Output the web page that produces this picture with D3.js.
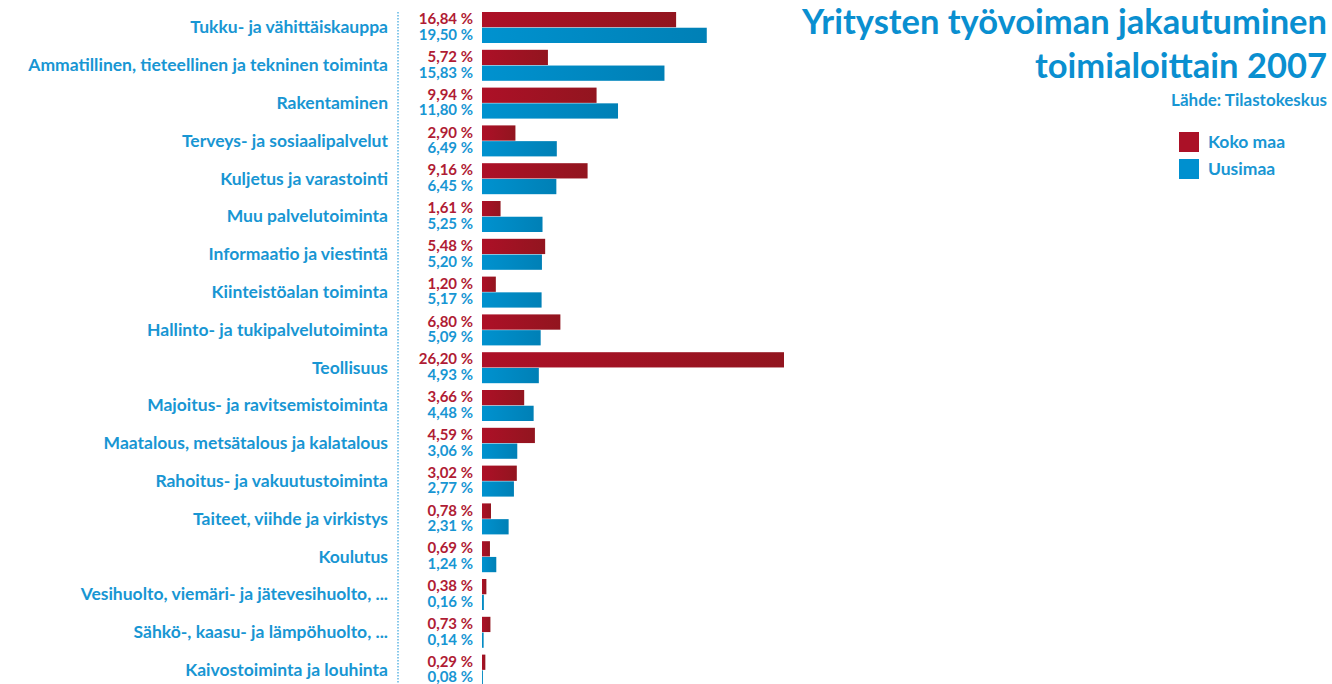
<!DOCTYPE html>
<html>
<head>
<meta charset="utf-8">
<script src="https://cdn.jsdelivr.net/npm/d3@7"></script>
<style>
  body { margin: 0; background: #fff; }
  svg { display: block; font-family: Lato, "Open Sans", sans-serif; font-weight: bold; }
</style>
</head>
<body>
<svg class="canvas" width="1332" height="684"></svg>
<script>
'use strict';

const categories = [
  'Tukku- ja vähittäiskauppa',
  'Ammatillinen, tieteellinen ja tekninen toiminta',
  'Rakentaminen',
  'Terveys- ja sosiaalipalvelut',
  'Kuljetus ja varastointi',
  'Muu palvelutoiminta',
  'Informaatio ja viestintä',
  'Kiinteistöalan toiminta',
  'Hallinto- ja tukipalvelutoiminta',
  'Teollisuus',
  'Majoitus- ja ravitsemistoiminta',
  'Maatalous, metsätalous ja kalatalous',
  'Rahoitus- ja vakuutustoiminta',
  'Taiteet, viihde ja virkistys',
  'Koulutus',
  'Vesihuolto, viemäri- ja jätevesihuolto, ...',
  'Sähkö-, kaasu- ja lämpöhuolto, ...',
  'Kaivostoiminta ja louhinta'
];
const kokoMaa = [16.84, 5.72, 9.94, 2.90, 9.16, 1.61, 5.48, 1.20, 6.80, 26.20, 3.66, 4.59, 3.02, 0.78, 0.69, 0.38, 0.73, 0.29];
const uusimaa = [19.50, 15.83, 11.80, 6.49, 6.45, 5.25, 5.20, 5.17, 5.09, 4.93, 4.48, 3.06, 2.77, 2.31, 1.24, 0.16, 0.14, 0.08];
const seriesNames = ['Koko maa', 'Uusimaa'];

const blueText = '#1896d3',
  redText = '#b01c34';

const svg = d3.select('.canvas');

// horizontal gradients for the bars
const defs = svg.append('defs');
const gradRed = defs.append('linearGradient').attr('id', 'gRed');
gradRed.append('stop').attr('offset', '0%').attr('stop-color', '#ad1027');
gradRed.append('stop').attr('offset', '100%').attr('stop-color', '#92151f');
const gradBlue = defs.append('linearGradient').attr('id', 'gBlue');
gradBlue.append('stop').attr('offset', '0%').attr('stop-color', '#0092cf');
gradBlue.append('stop').attr('offset', '100%').attr('stop-color', '#0080b6');

const x = d3.scaleLinear().domain([0, 26.2]).range([482, 784]);
const y = d3.scaleBand().domain(categories).range([12, 685.6]).paddingInner(0.18).paddingOuter(0);
const inner = d3.scaleBand().domain(seriesNames).range([0, y.bandwidth()]).paddingInner(0.03);

const rows = categories.map((c, i) => ({ c, vals: [kokoMaa[i], uusimaa[i]] }));

// dotted axis line
svg.append('line')
  .attr('x1', 398).attr('x2', 398)
  .attr('y1', 12).attr('y2', 684)
  .attr('stroke', '#5fb6e3').attr('stroke-width', 1.5)
  .attr('stroke-dasharray', '1.5,1.5');

const g = svg.selectAll('g.row').data(rows).enter().append('g')
  .attr('class', 'row')
  .attr('transform', d => `translate(0,${y(d.c)})`);

g.append('text')
  .attr('x', 388).attr('y', y.bandwidth() / 2 + 6)
  .attr('text-anchor', 'end')
  .attr('font-size', 17.5)
  .attr('fill', blueText)
  .text(d => d.c);

g.each(function (d) {
  const row = d3.select(this);
  seriesNames.forEach((s, k) => {
    const v = d.vals[k];
    row.append('rect')
      .attr('x', x(0))
      .attr('y', inner(s))
      .attr('width', x(v) - x(0))
      .attr('height', inner.bandwidth())
      .attr('fill', k === 0 ? 'url(#gRed)' : 'url(#gBlue)');
    row.append('text')
      .attr('x', 473)
      .attr('y', inner(s) + inner.bandwidth() / 2 + 4.5)
      .attr('text-anchor', 'end')
      .attr('font-size', 15)
      .attr('fill', k === 0 ? redText : blueText)
      .text(d3.format('.2f')(v).replace('.', ',') + ' %');
  });
});

// title
const title = svg.append('g').attr('fill', '#0a8fd0').attr('text-anchor', 'end');
title.append('text').attr('x', 1327).attr('y', 34).attr('font-size', 34.5).text('Yritysten työvoiman jakautuminen');
title.append('text').attr('x', 1327).attr('y', 78).attr('font-size', 34.5).text('toimialoittain 2007');
title.append('text').attr('x', 1327).attr('y', 106).attr('font-size', 17).attr('fill', blueText).text('Lähde: Tilastokeskus');

// legend
const legend = svg.append('g').attr('transform', 'translate(1179,132)');
seriesNames.forEach((s, k) => {
  legend.append('rect')
    .attr('x', 0).attr('y', k * 27)
    .attr('width', 20).attr('height', 20)
    .attr('fill', k === 0 ? '#ab1127' : '#0090cf');
  legend.append('text')
    .attr('x', 29).attr('y', k * 27 + 16)
    .attr('font-size', 17.5)
    .attr('fill', blueText)
    .text(s);
});
</script>
</body>
</html>
